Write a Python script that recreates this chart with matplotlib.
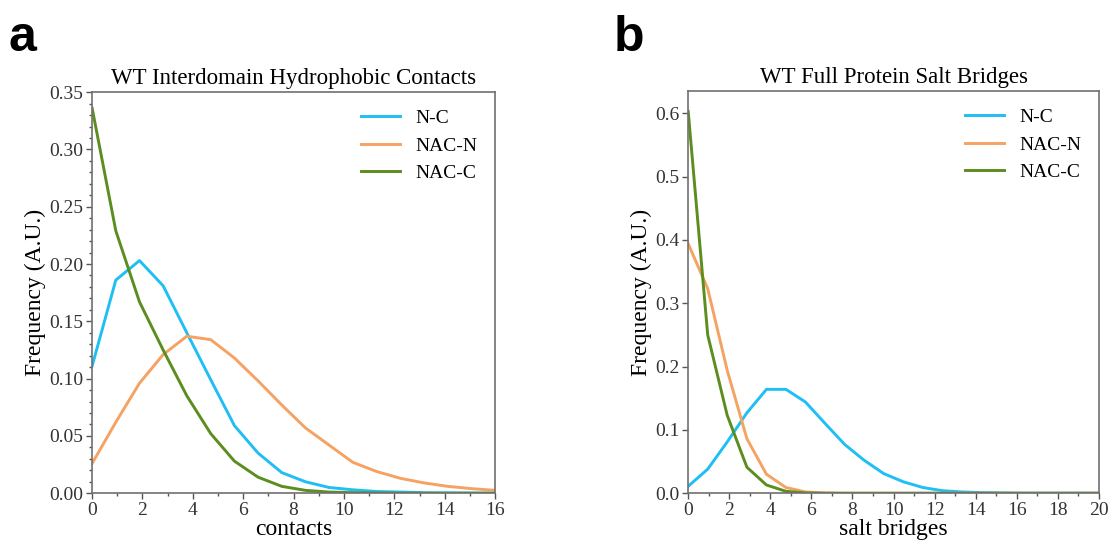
import numpy as np
import matplotlib
matplotlib.use("Agg")
import matplotlib.pyplot as plt
from matplotlib.ticker import MultipleLocator

plt.rcParams['font.family'] = ['Liberation Serif', 'DejaVu Serif']

# panel a: interdomain hydrophobic contacts (bin positions 0..16)
contacts_x = [0.00, 0.94, 1.88, 2.82, 3.76, 4.71, 5.65, 6.59, 7.53,
              8.47, 9.41, 10.35, 11.29, 12.24, 13.18, 14.12, 15.06, 16.00]
contacts_nc = [0.111, 0.186, 0.203, 0.181, 0.140, 0.099, 0.059, 0.035, 0.018,
               0.010, 0.005, 0.003, 0.0015, 0.001, 0.0005, 0.0003, 0.0002, 0.0001]
contacts_nacn = [0.026, 0.062, 0.096, 0.121, 0.137, 0.134, 0.118, 0.098, 0.077,
                 0.057, 0.042, 0.027, 0.019, 0.013, 0.009, 0.006, 0.004, 0.0025]
contacts_nacc = [0.336, 0.229, 0.167, 0.125, 0.085, 0.052, 0.028, 0.014, 0.006,
                 0.0025, 0.001, 0.0005, 0.0002, 0.0001, 0.0, 0.0, 0.0, 0.0]

# panel b: full protein salt bridges (bin positions 0..20)
salt_x = [0.00, 0.95, 1.90, 2.86, 3.81, 4.76, 5.71, 6.67, 7.62, 8.57, 9.52,
          10.48, 11.43, 12.38, 13.33, 14.29, 15.24, 16.19, 17.14, 18.10, 19.05, 20.00]
salt_nc = [0.011, 0.038, 0.081, 0.127, 0.164, 0.164, 0.144, 0.110, 0.077, 0.052, 0.031,
           0.018, 0.009, 0.004, 0.002, 0.001, 0.0005, 0.0, 0.0, 0.0, 0.0, 0.0]
salt_nacn = [0.394, 0.323, 0.194, 0.086, 0.030, 0.009, 0.002, 0.0005, 0.0, 0.0, 0.0,
             0.0, 0.0, 0.0, 0.0, 0.0, 0.0, 0.0, 0.0, 0.0, 0.0, 0.0]
salt_nacc = [0.603, 0.250, 0.123, 0.041, 0.013, 0.003, 0.0005, 0.0, 0.0, 0.0, 0.0,
             0.0, 0.0, 0.0, 0.0, 0.0, 0.0, 0.0, 0.0, 0.0, 0.0, 0.0]

labels = ['N-C', 'NAC-N', 'NAC-C']
colors = ['#1fbef5', '#f5a263', '#5b8d1f']

fig = plt.figure(figsize=(11.1, 5.42), dpi=100)
ax1 = fig.add_axes([0.083, 0.090, 0.363, 0.740])
ax2 = fig.add_axes([0.620, 0.090, 0.370, 0.742])

def style(ax, title, xlabel):
    ax.set_title(title, fontsize=16.5, pad=6)
    ax.set_xlabel(xlabel, fontsize=17, labelpad=0)
    ax.set_ylabel('Frequency (A.U.)', fontsize=17, labelpad=2)
    for s in ax.spines.values():
        s.set_color('#707070')
        s.set_linewidth(1.2)
    ax.tick_params(which='both', direction='out', colors='#555555', labelcolor='#333333',
                   labelsize=14, width=1)
    ax.tick_params(which='major', length=4, pad=2.5)
    ax.tick_params(which='minor', length=2.5)
    ax.legend(loc='upper right', frameon=False, fontsize=14, handlelength=2.0,
              labelspacing=0.5, handletextpad=0.8, borderaxespad=0.5)

for y, lab, c in zip([contacts_nc, contacts_nacn, contacts_nacc], labels, colors):
    ax1.plot(contacts_x, y, color=c, lw=2.1, label=lab)
ax1.set_xlim(0, 16)
ax1.set_ylim(0, 0.35)
ax1.xaxis.set_major_locator(MultipleLocator(2))
ax1.xaxis.set_minor_locator(MultipleLocator(1))
ax1.yaxis.set_major_locator(MultipleLocator(0.05))
ax1.yaxis.set_minor_locator(MultipleLocator(0.01))
ax1.yaxis.set_major_formatter(plt.FormatStrFormatter('%.2f'))
style(ax1, 'WT Interdomain Hydrophobic Contacts', 'contacts')

for y, lab, c in zip([salt_nc, salt_nacn, salt_nacc], labels, colors):
    ax2.plot(salt_x, y, color=c, lw=2.1, label=lab)
ax2.set_xlim(0, 20)
ax2.set_ylim(0, 0.635)
ax2.xaxis.set_major_locator(MultipleLocator(2))
ax2.xaxis.set_minor_locator(MultipleLocator(1))
ax2.yaxis.set_major_locator(MultipleLocator(0.1))
ax2.yaxis.set_major_formatter(plt.FormatStrFormatter('%.1f'))
style(ax2, 'WT Full Protein Salt Bridges', 'salt bridges')

fig.text(0.008, 0.905, 'a', fontsize=36, fontweight='bold', family=['Liberation Sans', 'DejaVu Sans'])
fig.text(0.553, 0.905, 'b', fontsize=36, fontweight='bold', family=['Liberation Sans', 'DejaVu Sans'])

fig.savefig('out.png', dpi=100)
